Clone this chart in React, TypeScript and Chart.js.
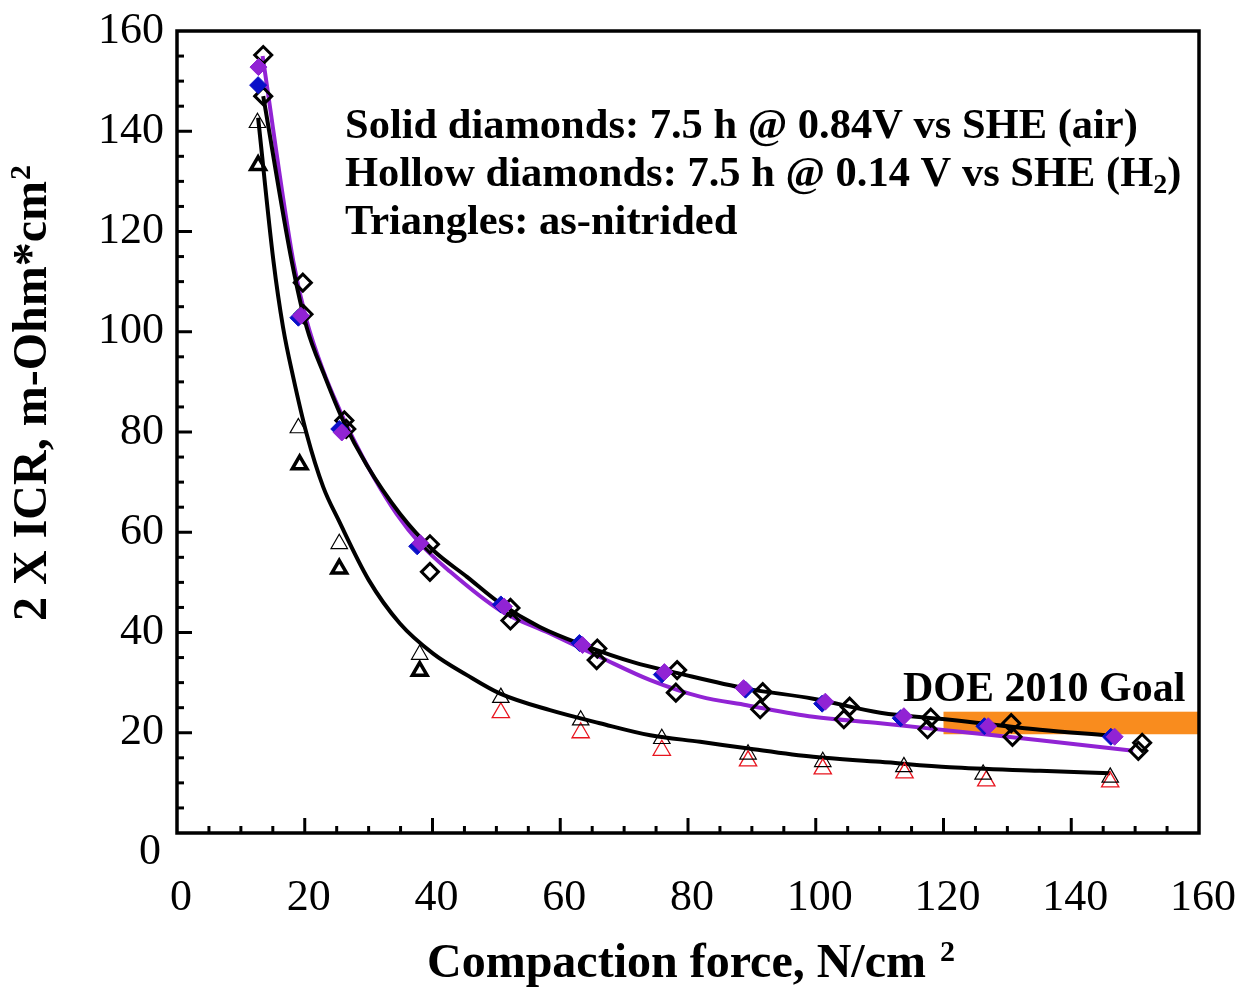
import React, { useEffect, useRef } from 'react';
import { Chart, registerables } from 'chart.js';

Chart.register(...registerables);

// ---------- axis ticks ----------
const xTickLabels = [0, 20, 40, 60, 80, 100, 120, 140, 160];
const yTickLabels = [0, 20, 40, 60, 80, 100, 120, 140, 160];
const minorStep = 5;

// ---------- solid diamonds (air) ----------
const purpleX = [12.75, 19.4, 25.8, 38.1, 51.2, 63.5, 76.3, 88.7, 101.5, 113.8, 127.0, 146.8];
const purpleY = [152.8, 103.2, 79.9, 57.8, 45.2, 37.5, 32.1, 28.9, 26.2, 23.3, 21.3, 19.2];
const blueX = [12.7, 19.0, 25.4, 37.6, 50.7, 63.0, 75.9, 89.0, 101.0, 113.3, 126.4, 146.2];
const blueY = [149.2, 102.8, 80.6, 57.2, 45.6, 37.9, 31.6, 28.6, 25.8, 22.9, 21.3, 19.2];

// ---------- hollow diamonds (H2) ----------
const hollowAX = [13.5, 19.7, 26.2, 39.6, 52.2, 65.8, 78.3, 91.7, 105.3, 118.0, 130.6, 151.1];
const hollowAY = [155.2, 109.8, 82.3, 57.6, 44.9, 36.8, 32.5, 28.1, 25.2, 23.0, 21.9, 18.0];
const hollowBX = [13.5, 19.8, 26.5, 39.6, 52.2, 65.7, 78.1, 91.3, 104.4, 117.5, 130.8, 150.5];
const hollowBY = [147.0, 103.5, 80.6, 52.1, 42.4, 34.5, 28.0, 24.7, 22.7, 20.7, 19.2, 16.4];

// ---------- triangles (as-nitrided) ----------
const triThinX = [12.6, 19.0, 25.4, 38.0, 50.7, 63.2, 75.9, 89.4, 101.1, 113.8, 126.2, 146.1];
const triThinY = [141.7, 80.8, 57.7, 35.6, 27.0, 22.5, 18.8, 15.7, 14.2, 13.2, 11.7, 11.1];
const triBoldX = [12.7, 19.2, 25.4, 38.0];
const triBoldY = [133.2, 73.5, 52.7, 32.3];
const triRedX = [50.7, 63.2, 75.9, 89.4, 101.1, 113.9, 126.7, 146.1];
const triRedY = [24.0, 20.0, 16.5, 14.4, 12.8, 12.0, 10.4, 10.2];

// ---------- fitted curves ----------
const fitHollowX = [13.5, 17.96, 20.3, 23.2, 26.0, 29.7, 34.9, 40.1, 45.4, 50.6, 56.8, 63.6, 71.4, 78.7, 89.2, 99.6, 110.1, 121.0, 135.1, 145.6];
const fitHollowY = [147.0, 114.1, 100.9, 90.9, 82.3, 73.4, 63.7, 56.4, 51.1, 45.8, 41.1, 37.5, 34.1, 31.8, 28.8, 26.8, 24.0, 22.6, 20.6, 19.5];
const fitSolidX = [13.4, 18.2, 20.3, 22.9, 25.5, 27.6, 30.7, 34.4, 38.0, 42.7, 50.6, 58.4, 66.2, 74.1, 81.9, 89.2, 99.6, 110.1, 122.6, 135.1, 149.7];
const fitSolidY = [155.0, 114.1, 102.2, 92.2, 84.3, 78.6, 71.2, 63.6, 57.8, 52.2, 44.4, 39.8, 35.1, 30.5, 27.2, 25.5, 23.2, 21.9, 20.2, 18.5, 16.4];
const fitTriX = [12.7, 15.1, 16.6, 18.2, 20.3, 22.9, 25.3, 30.0, 34.9, 40.1, 45.4, 50.6, 58.4, 66.2, 74.1, 81.9, 89.2, 99.6, 110.1, 121.0, 135.1, 146.1];
const fitTriY = [142.7, 114.1, 100.9, 90.9, 79.6, 69.0, 62.4, 50.5, 41.8, 35.8, 31.5, 27.8, 24.5, 21.9, 19.5, 18.2, 16.9, 15.2, 14.2, 13.1, 12.4, 11.9];

// ---------- DOE goal band ----------
const goalXRange = [120, 160];
const goalYRange = [19.7, 24.2];

const pts = (xs: number[], ys: number[]) => xs.map((x, i) => ({ x, y: ys[i] }));

const SERIF = '"Liberation Serif", "Times New Roman", serif';

const decorPlugin = {
  id: 'decor',
  beforeDatasetsDraw(chart: any) {
    const { ctx, scales } = chart;
    const xs = scales.x, ys = scales.y;
    const x0 = xs.getPixelForValue(goalXRange[0]);
    const x1 = xs.getPixelForValue(goalXRange[1]);
    const y0 = ys.getPixelForValue(goalYRange[1]);
    const y1 = ys.getPixelForValue(goalYRange[0]);
    ctx.save();
    ctx.fillStyle = '#F98C1E';
    ctx.fillRect(x0, y0, x1 - x0, y1 - y0);
    ctx.restore();
  },
  afterDraw(chart: any) {
    const { ctx, chartArea, scales } = chart;
    const xs = scales.x, ys = scales.y;
    const { left, right, top, bottom } = chartArea;
    ctx.save();
    ctx.strokeStyle = '#000';
    ctx.lineWidth = 3.5;
    ctx.lineCap = 'butt';
    // frame
    ctx.strokeRect(left, top, right - left, bottom - top);
    // ticks
    ctx.lineWidth = 3;
    for (let v = 0; v <= 160; v += minorStep) {
      const major = v % 20 === 0;
      const len = major ? 15 : 7;
      const px = xs.getPixelForValue(v);
      if (v > 0 && v < 160) {
        ctx.beginPath();
        ctx.moveTo(px, bottom);
        ctx.lineTo(px, bottom - len);
        ctx.stroke();
      }
      const py = ys.getPixelForValue(v);
      if (v > 0 && v < 160) {
        ctx.beginPath();
        ctx.moveTo(left, py);
        ctx.lineTo(left + len, py);
        ctx.stroke();
      }
    }
    // tick labels
    ctx.fillStyle = '#000';
    ctx.font = `44px ${SERIF}`;
    ctx.textBaseline = 'middle';
    ctx.textAlign = 'center';
    xTickLabels.forEach((v) => {
      ctx.fillText(String(v), xs.getPixelForValue(v) + 4, 898);
    });
    ctx.textAlign = 'right';
    yTickLabels.forEach((v) => {
      const py = ys.getPixelForValue(v);
      if (v === 0) ctx.fillText('0', 161, 852);
      else ctx.fillText(String(v), 164, py);
    });
    // x title
    ctx.textAlign = 'left';
    ctx.font = `bold 48px ${SERIF}`;
    const xt = 'Compaction force, N/cm';
    ctx.fillText(xt, 427, 965);
    const xtw = ctx.measureText(xt).width;
    ctx.font = `bold 30px ${SERIF}`;
    ctx.fillText('2', 427 + xtw + 14, 953);
    // y title
    ctx.save();
    ctx.translate(34, 621);
    ctx.rotate(-Math.PI / 2);
    ctx.font = `bold 48px ${SERIF}`;
    const yt = '2 X ICR, m-Ohm*cm';
    ctx.fillText(yt, 0, 0);
    const ytw = ctx.measureText(yt).width;
    ctx.font = `bold 30px ${SERIF}`;
    ctx.fillText('2', ytw + 1, -12);
    ctx.restore();
    // annotations
    ctx.font = `bold 42.5px ${SERIF}`;
    ctx.fillText('Solid diamonds: 7.5 h @ 0.84V vs SHE (air)', 345, 127);
    const h1 = 'Hollow diamonds: 7.5 h @ 0.14 V vs SHE (H';
    ctx.fillText(h1, 345, 175);
    const h1w = ctx.measureText(h1).width;
    ctx.font = `bold 28px ${SERIF}`;
    ctx.fillText('2', 345 + h1w, 186);
    const subw = ctx.measureText('2').width;
    ctx.font = `bold 42.5px ${SERIF}`;
    ctx.fillText(')', 345 + h1w + subw, 175);
    ctx.fillText('Triangles: as-nitrided', 345, 223);
    ctx.font = `bold 42px ${SERIF}`;
    ctx.fillText('DOE 2010 Goal', 903, 690);
    ctx.restore();
  },
};

export default function App() {
  const ref = useRef<HTMLCanvasElement | null>(null);
  useEffect(() => {
    document.body.style.margin = '0';
    if (!ref.current) return;
    const lineDs = (label: string, xs: number[], ys: number[], color: string, order: number) => ({
      label,
      data: pts(xs, ys),
      showLine: true,
      borderColor: color,
      borderWidth: 4,
      pointRadius: 0,
      cubicInterpolationMode: 'monotone',
      fill: false,
      order,
    });
    const chart = new Chart(ref.current, {
      type: 'scatter',
      data: {
        datasets: [
          {
            label: 'Solid (purple)',
            data: pts(purpleX, purpleY),
            pointStyle: 'rectRot',
            pointRadius: 8.5,
            pointBackgroundColor: '#9123D4',
            pointBorderColor: '#9123D4',
            pointBorderWidth: 1,
            showLine: false,
            order: 1,
          },
          {
            label: 'Solid (blue)',
            data: pts(blueX, blueY),
            pointStyle: 'rectRot',
            pointRadius: 8.5,
            pointBackgroundColor: '#0A10C8',
            pointBorderColor: '#0A10C8',
            pointBorderWidth: 1,
            showLine: false,
            order: 2,
          },
          {
            label: 'Hollow A',
            data: pts(hollowAX, hollowAY),
            pointStyle: 'rectRot',
            pointRadius: 8.5,
            pointBackgroundColor: 'rgba(0,0,0,0)',
            pointBorderColor: '#000',
            pointBorderWidth: 3,
            showLine: false,
            order: 3,
          },
          {
            label: 'Hollow B',
            data: pts(hollowBX, hollowBY),
            pointStyle: 'rectRot',
            pointRadius: 8.5,
            pointBackgroundColor: 'rgba(0,0,0,0)',
            pointBorderColor: '#000',
            pointBorderWidth: 3,
            showLine: false,
            order: 4,
          },
          {
            label: 'Triangles thin',
            data: pts(triThinX, triThinY),
            pointStyle: 'triangle',
            pointRadius: 9.5,
            pointBackgroundColor: 'rgba(0,0,0,0)',
            pointBorderColor: '#000',
            pointBorderWidth: 1.2,
            showLine: false,
            order: 5,
          },
          {
            label: 'Triangles bold',
            data: pts(triBoldX, triBoldY),
            pointStyle: 'triangle',
            pointRadius: 8.5,
            pointBackgroundColor: 'rgba(0,0,0,0)',
            pointBorderColor: '#000',
            pointBorderWidth: 3.5,
            showLine: false,
            order: 6,
          },
          {
            label: 'Triangles red',
            data: pts(triRedX, triRedY),
            pointStyle: 'triangle',
            pointRadius: 10,
            pointBackgroundColor: 'rgba(0,0,0,0)',
            pointBorderColor: '#E8141E',
            pointBorderWidth: 1.3,
            showLine: false,
            order: 7,
          },
          lineDs('Fit hollow', fitHollowX, fitHollowY, '#000', 8),
          lineDs('Fit solid', fitSolidX, fitSolidY, '#9123D4', 9),
          lineDs('Fit triangles', fitTriX, fitTriY, '#000', 10),
        ] as any,
      },
      options: {
        animation: false,
        responsive: false,
        devicePixelRatio: 1,
        layout: { padding: { left: 177, right: 49, top: 31, bottom: 157 } },
        plugins: { legend: { display: false }, tooltip: { enabled: false } },
        scales: {
          x: { type: 'linear', min: 0, max: 160, display: false },
          y: { type: 'linear', min: 0, max: 160, display: false },
        },
      },
      plugins: [decorPlugin],
    });
    return () => chart.destroy();
  }, []);
  return (
    <div style={{ width: 1248, height: 990, background: '#fff' }}>
      <canvas ref={ref} width={1248} height={990} style={{ display: 'block' }} />
    </div>
  );
}
